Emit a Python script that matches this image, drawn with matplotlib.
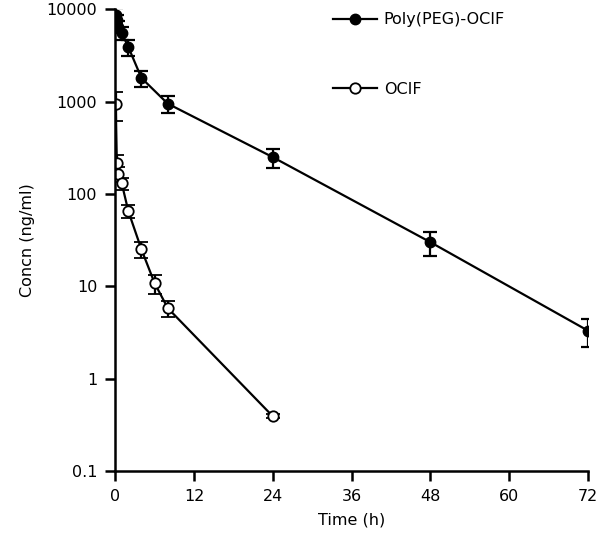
import numpy as np
import matplotlib
matplotlib.use("Agg")
import matplotlib.pyplot as plt

plt.rcParams["font.family"] = ["DejaVu Sans"]

# Poly(PEG)-OCIF, mean and error bar (ng/ml)
peg_time = [0.083, 0.25, 0.5, 1, 2, 4, 8, 24, 48, 72]
peg_conc = [8600, 7600, 6500, 5500, 3900, 1800, 950, 250, 30, 3.3]
peg_err = [1600, 1100, 1000, 900, 800, 350, 200, 60, 9, 1.1]

# OCIF, mean and error bar (ng/ml)
ocif_time = [0.083, 0.25, 0.5, 1, 2, 4, 6, 8, 24]
ocif_conc = [950, 215, 165, 130, 65, 25, 10.8, 5.8, 0.39]
ocif_err = [330, 50, 30, 20, 10, 5, 2.5, 1.2, 0.02]

x_ticks = [0, 12, 24, 36, 48, 60, 72]
y_ticks = [0.1, 1, 10, 100, 1000, 10000]
y_labels = ["0.1", "1", "10", "100", "1000", "10000"]

fig = plt.figure(figsize=(6, 5.45), dpi=100)
ax = fig.add_axes([0.192, 0.136, 0.788, 0.847])

ax.errorbar(peg_time, peg_conc, yerr=peg_err, color="black", lw=1.6,
            marker="o", ms=7.5, mfc="black", mec="black",
            elinewidth=1.6, capsize=5, capthick=1.6, label="Poly(PEG)-OCIF")
ax.errorbar(ocif_time, ocif_conc, yerr=ocif_err, color="black", lw=1.6,
            marker="o", ms=7.5, mfc="white", mec="black", mew=1.3,
            elinewidth=1.6, capsize=5, capthick=1.6, label="OCIF")

ax.set_yscale("log")
ax.set_xlim(0, 72)
ax.set_ylim(0.1, 10000)
ax.set_xticks(x_ticks)
ax.set_yticks(y_ticks)
ax.set_yticklabels(y_labels)
ax.yaxis.set_minor_locator(matplotlib.ticker.NullLocator())

for side in ["top", "right"]:
    ax.spines[side].set_visible(False)
for side in ["left", "bottom"]:
    ax.spines[side].set_linewidth(1.8)
ax.tick_params(direction="out", length=7, width=1.8, labelsize=11.5, pad=6)

ax.set_xlabel("Time (h)", fontsize=11.5, labelpad=6)
ax.set_ylabel("Concn (ng/ml)", fontsize=11.5, labelpad=8)

handles, labels = ax.get_legend_handles_labels()
handles = [h[0] for h in handles]
ax.legend(handles, labels, loc="upper left", bbox_to_anchor=(0.46, 0.993),
          frameon=False, fontsize=11.5, handlelength=2.8, handletextpad=0.4,
          labelspacing=3.4, borderpad=0, borderaxespad=0)

fig.savefig("out.png", dpi=100)
